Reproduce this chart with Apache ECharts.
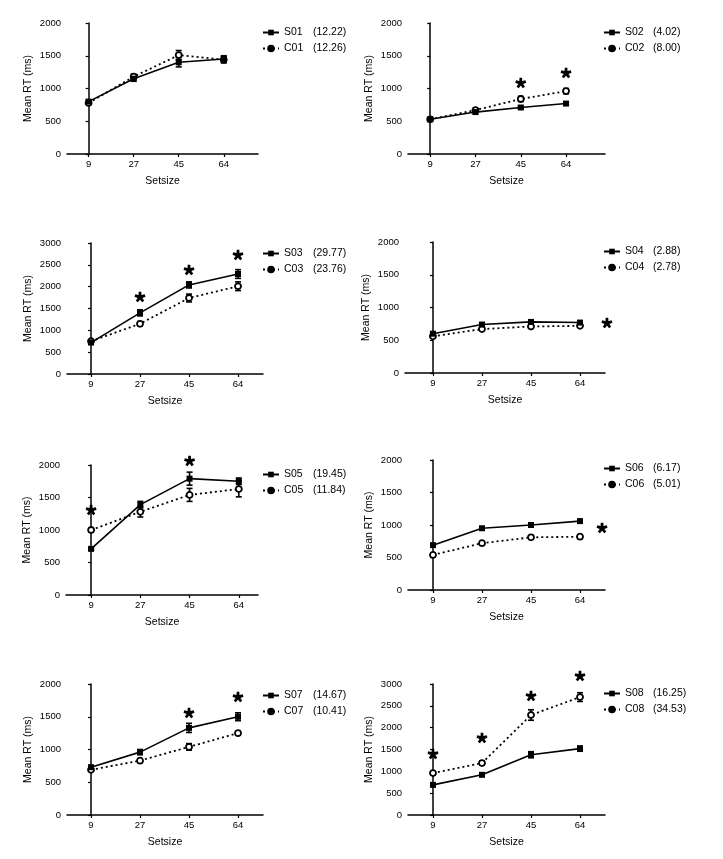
<!DOCTYPE html>
<html><head><meta charset="utf-8">
<script src="https://cdn.jsdelivr.net/npm/echarts@6/dist/echarts.min.js"></script>
<style>html,body{margin:0;padding:0;background:#fff}#c{width:723px;height:859px}</style>
</head><body><div id="c"></div>
<script>
// ---------- data ----------
const categories = ['9', '27', '45', '64'];
const sNames = ['S01', 'S02', 'S03', 'S04', 'S05', 'S06', 'S07', 'S08'];
const cNames = ['C01', 'C02', 'C03', 'C04', 'C05', 'C06', 'C07', 'C08'];
const sScores = ['12.22', '4.02', '29.77', '2.88', '19.45', '6.17', '14.67', '16.25'];
const cScores = ['12.26', '8.00', '23.76', '2.78', '11.84', '5.01', '10.41', '34.53'];
const yMaxes = [2000, 2000, 3000, 2000, 2000, 2000, 2000, 3000];
const sMeans = [
  [800, 1150, 1400, 1450],
  [530, 640, 710, 770],
  [720, 1400, 2040, 2290],
  [600, 740, 780, 770],
  [710, 1390, 1790, 1750],
  [690, 950, 1000, 1060],
  [730, 960, 1330, 1500],
  [690, 920, 1380, 1520]
];
const cMeans = [
  [780, 1180, 1510, 1440],
  [530, 670, 840, 960],
  [750, 1150, 1740, 2010],
  [560, 670, 710, 720],
  [1000, 1280, 1540, 1630],
  [540, 720, 810, 820],
  [690, 830, 1040, 1250],
  [960, 1190, 2290, 2700]
];
const sErrors = [
  [20, 40, 70, 50],
  [20, 20, 20, 20],
  [30, 70, 70, 100],
  [20, 20, 20, 20],
  [20, 50, 100, 50],
  [20, 20, 20, 20],
  [20, 40, 70, 60],
  [20, 30, 70, 60]
];
const cErrors = [
  [20, 40, 70, 50],
  [20, 20, 40, 40],
  [30, 50, 90, 100],
  [20, 20, 20, 20],
  [30, 80, 100, 120],
  [30, 30, 30, 30],
  [20, 30, 50, 30],
  [40, 50, 120, 100]
];
// significance asterisks: [category position, RT]
const starPoints = [
  [],
  [[2, 1084], [3, 1237]],
  [[1, 1763], [2, 2382], [3, 2725]],
  [[3.55, 763]],
  [[0, 1308], [2, 2062]],
  [[3.45, 954]],
  [[2, 1557], [3, 1802]],
  [[0, 1397], [1, 1763], [2, 2725], [3, 3183]]
];

// ---------- layout ----------
const layout = [
  {left: 67,  top: 23,  width: 191, height: 131, xMin: -0.48, xMax: 3.76, lgLeft: 262, lgTop: 26, aw: 29},
  {left: 408, top: 23,  width: 197, height: 131, xMin: -0.49, xMax: 3.86, lgLeft: 603, lgTop: 26, aw: 28},
  {left: 67,  top: 243, width: 196, height: 131, xMin: -0.49, xMax: 3.51, lgLeft: 262, lgTop: 247, aw: 29},
  {left: 405, top: 242, width: 200, height: 131, xMin: -0.57, xMax: 3.51, lgLeft: 603, lgTop: 245, aw: 28},
  {left: 66,  top: 465, width: 192, height: 130, xMin: -0.51, xMax: 3.39, lgLeft: 262, lgTop: 468, aw: 29},
  {left: 408, top: 460, width: 197, height: 130, xMin: -0.51, xMax: 3.51, lgLeft: 603, lgTop: 462, aw: 28},
  {left: 67,  top: 684, width: 196, height: 131, xMin: -0.49, xMax: 3.51, lgLeft: 262, lgTop: 689, aw: 29},
  {left: 408, top: 684, width: 197, height: 131, xMin: -0.51, xMax: 3.51, lgLeft: 603, lgTop: 687, aw: 28}
];

const FONT = 'Liberation Sans, Arial, sans-serif';

function asteriskPath() {
  const r = 10, w = 3.0;
  let d = '';
  for (let k = 0; k < 5; k++) {
    const a = (-90 + 72 * k) * Math.PI / 180;
    const dx = Math.cos(a), dy = Math.sin(a);
    const px = -dy * w, py = dx * w;
    const p = [[px, py], [dx * r + px * 0.8, dy * r + py * 0.8], [dx * r - px * 0.8, dy * r - py * 0.8], [-px, -py]];
    d += 'M' + p.map(q => q[0].toFixed(2) + ' ' + q[1].toFixed(2)).join(' L') + ' Z ';
  }
  return 'path://' + d;
}
const STAR = asteriskPath();

const scoreMap = {};
sNames.forEach((n, i) => { scoreMap[n] = sScores[i]; });
cNames.forEach((n, i) => { scoreMap[n] = cScores[i]; });

function errorSeries(i, means, errs, name) {
  return {
    type: 'custom',
    name: name + '_err',
    xAxisIndex: i, yAxisIndex: i,
    z: 2,
    silent: true,
    data: means.map((m, k) => [k, m - errs[k], m + errs[k]]),
    renderItem: function (params, api) {
      const lo = api.coord([api.value(0), api.value(1)]);
      const hi = api.coord([api.value(0), api.value(2)]);
      const c = 3;
      const st = {stroke: '#000', lineWidth: 1.6};
      return {
        type: 'group',
        children: [
          {type: 'line', shape: {x1: lo[0], y1: lo[1], x2: hi[0], y2: hi[1]}, style: st},
          {type: 'line', shape: {x1: lo[0] - c, y1: lo[1], x2: lo[0] + c, y2: lo[1]}, style: st},
          {type: 'line', shape: {x1: hi[0] - c, y1: hi[1], x2: hi[0] + c, y2: hi[1]}, style: st}
        ]
      };
    }
  };
}

const grids = [], xAxes = [], yAxes = [], legends = [], series = [];
layout.forEach((L, i) => {
  grids.push({left: L.left, top: L.top, width: L.width, height: L.height, containLabel: false});
  xAxes.push({
    type: 'value', gridIndex: i, min: L.xMin, max: L.xMax,
    name: 'Setsize', nameLocation: 'middle', nameGap: 22,
    nameTextStyle: {color: '#000', fontSize: 10.5, fontFamily: FONT},
    axisLine: {show: true, onZero: false, lineStyle: {color: '#000', width: 1.5}},
    axisTick: {show: true, customValues: [0, 1, 2, 3], length: 3, lineStyle: {color: '#000', width: 1.2}},
    axisLabel: {customValues: [0, 1, 2, 3], formatter: v => categories[Math.round(v)], color: '#000', fontSize: 9.5, fontFamily: FONT, margin: 5},
    splitLine: {show: false}
  });
  yAxes.push({
    type: 'value', gridIndex: i, min: 0, max: yMaxes[i], interval: 500,
    name: 'Mean RT (ms)', nameLocation: 'middle', nameGap: 33, nameRotate: 90,
    nameTextStyle: {color: '#000', fontSize: 10.5, fontFamily: FONT},
    axisLine: {show: true, lineStyle: {color: '#000', width: 1.5}},
    axisTick: {show: true, length: 3, lineStyle: {color: '#000', width: 1.2}},
    axisLabel: {formatter: v => String(v), color: '#000', fontSize: 9.5, fontFamily: FONT, margin: 6},
    splitLine: {show: false}
  });
  legends.push({
    orient: 'vertical', left: L.lgLeft, top: L.lgTop, padding: 0,
    itemWidth: 16, itemHeight: 7, itemGap: 3,
    data: [
      {name: sNames[i], itemStyle: {color: '#000'}},
      {name: cNames[i], itemStyle: {color: '#000', borderColor: '#000'}}
    ],
    formatter: name => '{a|' + name + '}{b|(' + scoreMap[name] + ')}',
    textStyle: {
      color: '#000', fontSize: 10.5, fontFamily: FONT, lineHeight: 13,
      rich: {a: {width: L.aw, fontSize: 10.5, fontFamily: FONT, color: '#000'}, b: {fontSize: 10.5, fontFamily: FONT, color: '#000'}}
    },
    selectedMode: false
  });
  series.push(errorSeries(i, sMeans[i], sErrors[i], sNames[i]));
  series.push(errorSeries(i, cMeans[i], cErrors[i], cNames[i]));
  series.push({
    type: 'line', name: sNames[i], xAxisIndex: i, yAxisIndex: i, z: 4,
    data: sMeans[i].map((v, k) => [k, v]),
    symbol: 'rect', symbolSize: 6,
    lineStyle: {color: '#000', width: 1.6},
    itemStyle: {color: '#000'}
  });
  series.push({
    type: 'line', name: cNames[i], xAxisIndex: i, yAxisIndex: i, z: 3,
    data: cMeans[i].map((v, k) => [k, v]),
    symbol: 'circle', symbolSize: 6,
    lineStyle: {color: '#000', width: 1.8, type: [2, 3]},
    itemStyle: {color: '#fff', borderColor: '#000', borderWidth: 1.8}
  });
  series.push({
    type: 'scatter', name: 'sig' + i, xAxisIndex: i, yAxisIndex: i, z: 5,
    data: starPoints[i], symbol: STAR, symbolSize: 11, symbolKeepAspect: true,
    itemStyle: {color: '#000', opacity: 1}, clip: false, silent: true
  });
});

const chart = echarts.init(document.getElementById('c'), null, {renderer: 'canvas'});
chart.setOption({
  animation: false,
  backgroundColor: '#fff',
  grid: grids, xAxis: xAxes, yAxis: yAxes, legend: legends, series: series
});
</script>
</body></html>
